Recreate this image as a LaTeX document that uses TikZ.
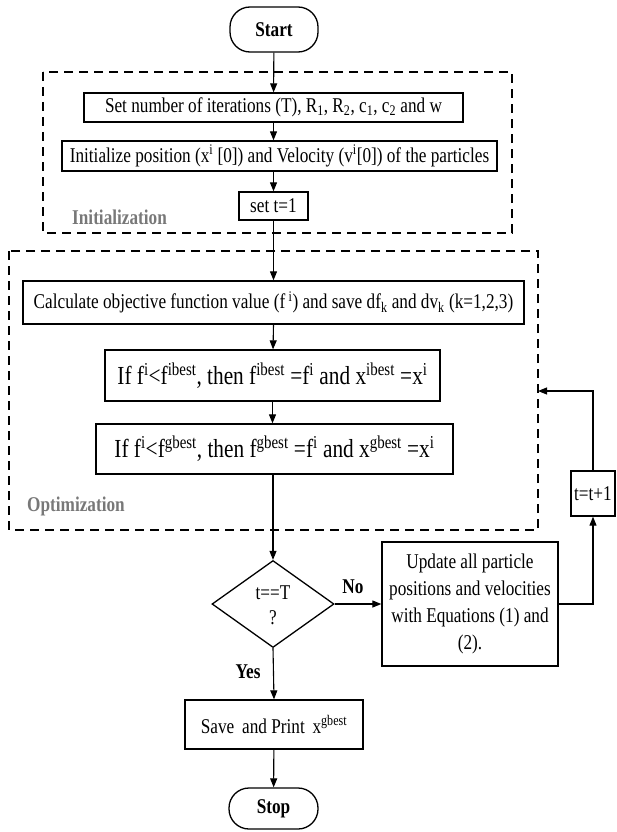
\documentclass[tikz,border=0pt]{standalone}
\usepackage{fontspec}
\setmainfont[FakeStretch=0.82]{Liberation Serif}
\usetikzlibrary{shapes.geometric,arrows.meta}
\definecolor{labgray}{RGB}{120,120,120}
\begin{document}
\begin{tikzpicture}[x=1pt,y=-1pt,
  box/.style={draw,line width=1.3pt,inner sep=0pt,align=center,font=\fontsize{21}{25}\selectfont},
  term/.style={draw,line width=1.3pt,rounded corners=20pt,inner sep=0pt,font=\bfseries\fontsize{21}{25}\selectfont},
  dbox/.style={draw,line width=1.3pt,dash pattern=on 9pt off 6pt},
  arr/.style={line width=1.1pt,-{Triangle[length=9pt,width=7pt]}},
  grouplab/.style={anchor=west,text=labgray,font=\bfseries\fontsize{21}{25}\selectfont,inner sep=0pt},
  edgelab/.style={font=\bfseries\fontsize{21}{25}\selectfont,inner sep=0pt}]
\useasboundingbox (0,0) rectangle (616,832);

% group frames
\draw[dbox] (43,72) rectangle (512,233);
\draw[dbox] (9,251) rectangle (538,530);
\node[grouplab] (initlab) at (72,217) {Initialization};
\node[grouplab] (optlab) at (27,506) {Optimization};

% nodes
\node[term,minimum width=88pt,minimum height=45pt] (start) at (274,29.5) {Start};
\node[box,minimum width=379pt,minimum height=29pt] (b1) at (273.5,107.5)
  {Set number of iterations (T), R\textsubscript{1}, R\textsubscript{2}, c\textsubscript{1}, c\textsubscript{2} and w};
\node[box,minimum width=435pt,minimum height=30pt] (b2) at (279.5,156)
  {Initialize position (x\textsuperscript{i} [0]) and Velocity (v\textsuperscript{i}[0]) of the particles};
\node[box,minimum width=69pt,minimum height=28pt] (b3) at (273.5,206) {set t=1};
\node[box,minimum width=501pt,minimum height=43pt] (b4) at (273.5,302.5)
  {Calculate objective function value (f\,\textsuperscript{i}) and save df\textsubscript{k} and dv\textsubscript{k} (k=1,2,3)};
\node[box,minimum width=335pt,minimum height=51pt,font=\fontsize{26}{30}\selectfont] (b5) at (272.5,375.5)
  {If f\textsuperscript{i}<f\textsuperscript{ibest}, then f\textsuperscript{ibest} =f\textsuperscript{i} and x\textsuperscript{ibest} =x\textsuperscript{i}};
\node[box,minimum width=357pt,minimum height=50pt,font=\fontsize{26}{30}\selectfont] (b6) at (274.5,449)
  {If f\textsuperscript{i}<f\textsuperscript{gbest}, then f\textsuperscript{gbest} =f\textsuperscript{i} and x\textsuperscript{gbest} =x\textsuperscript{i}};
\node[draw,line width=1.3pt,diamond,aspect=1.4,minimum width=122pt,minimum height=87pt,inner sep=0pt,
  font=\fontsize{21}{25}\selectfont] (dec) at (273,604)
  {\raisebox{-8pt}[0pt][0pt]{\begin{tabular}{@{}c@{}}t==T\\?\end{tabular}}};
\node[box,minimum width=176pt,minimum height=124pt,font=\fontsize{21}{27}\selectfont] (upd) at (470,604)
  {Update all particle\\positions and velocities\\with Equations (1) and\\(2).};
\node[box,minimum width=44pt,minimum height=45pt] (tt) at (593,493.5) {t=t+1};
\node[box,minimum width=178pt,minimum height=49pt] (save) at (274,724.5)
  {Save\, and Print\, x\textsuperscript{gbest}};
\node[term,minimum width=89pt,minimum height=41pt] (stop) at (273.5,808.5) {Stop};

\node[edgelab] (nolab) at (353,587) {No};
\node[edgelab] (yeslab) at (248,672) {Yes};

\coordinate (fb) at (538,391);

% connectors
\draw[arr] (start) -- (b1);
\draw[arr] (b1) -- (b1 |- b2.north);
\draw[arr] (b1 |- b2.south) -- (b3);
\draw[arr] (b3) -- (b3 |- b4.north);
\draw[arr] (b3 |- b4.south) -- (b5);
\draw[arr] (b5) -- (b5 |- b6.north);
\draw[arr] (dec.north |- b6.south) -- (dec.north);
\draw[arr] (dec.east) -- (upd.west);
\draw[arr] (dec.south) -- (save.north);
\draw[arr] (save) -- (stop);
\draw[arr] (upd.east) -| (tt.south);
\draw[arr] (tt.north) |- (fb);
\end{tikzpicture}
\end{document}
